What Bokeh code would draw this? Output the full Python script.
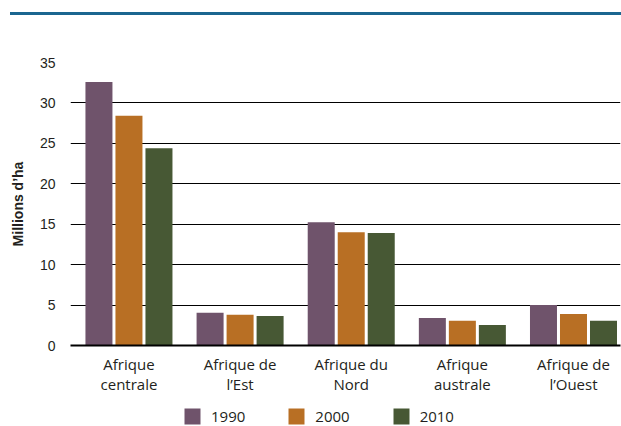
from bokeh.plotting import figure
from bokeh.models import ColumnDataSource, Range1d, FixedTicker, SingleIntervalTicker, Div, Legend, LegendItem
from bokeh.transform import dodge
from bokeh.layouts import column
from bokeh.embed import file_html
from bokeh.resources import INLINE

# ---- data ----
regions = ["Afrique\ncentrale", "Afrique de\nl’Est", "Afrique du\nNord", "Afrique\naustrale", "Afrique de\nl’Ouest"]
years = ["1990", "2000", "2010"]
v1990 = [32.6, 4.05, 15.25, 3.4, 5.0]
v2000 = [28.4, 3.8, 14.0, 3.05, 3.9]
v2010 = [24.4, 3.65, 13.9, 2.55, 3.05]
colors = ["#6f536b", "#b86f24", "#475834"]

xpos = list(range(len(regions)))
src = ColumnDataSource(data=dict(x=xpos, y1990=v1990, y2000=v2000, y2010=v2010))

p = figure(width=621, height=381,
           x_range=Range1d(-0.526, 4.423), y_range=Range1d(0, 35),
           output_backend="svg", toolbar_location=None,
           min_border_left=70, min_border_right=1,
           min_border_top=47, min_border_bottom=50)
p.outline_line_color = None
p.background_fill_color = "white"
p.border_fill_color = "white"

offsets = [-0.27, 0.0, 0.27]
for yr, off, col in zip(years, offsets, colors):
    p.vbar(x=dodge("x", off, range=p.x_range), top="y" + yr, width=0.243,
           source=src, fill_color=col, line_color=None)

# y axis
p.yaxis.ticker = SingleIntervalTicker(interval=5)
p.ygrid.ticker = SingleIntervalTicker(interval=5)
p.ygrid.grid_line_color = "black"
p.ygrid.grid_line_width = 1
p.xgrid.visible = False
p.yaxis.axis_line_color = None
p.yaxis.major_tick_line_color = None
p.yaxis.minor_tick_line_color = None
p.yaxis.major_label_standoff = 9
p.yaxis.major_label_text_font = "Liberation Sans"
p.yaxis.major_label_text_font_size = "14px"
p.yaxis.major_label_text_color = "#231f20"
p.yaxis.axis_label = "Millions d’ha"
p.yaxis.axis_label_text_font = "Liberation Sans"
p.yaxis.axis_label_text_font_style = "bold"
p.yaxis.axis_label_text_font_size = "14px"
p.yaxis.axis_label_text_color = "#231f20"
p.yaxis.axis_label_standoff = 11

# x axis
p.xaxis.ticker = FixedTicker(ticks=xpos)
p.xaxis.major_label_overrides = {i: r for i, r in zip(xpos, regions)}
p.xaxis.axis_line_color = "black"
p.xaxis.axis_line_width = 2
p.xaxis.major_tick_line_color = None
p.xaxis.minor_tick_line_color = None
p.xaxis.major_label_standoff = 2
p.xaxis.major_label_text_font = "Open Sans"
p.xaxis.major_label_text_font_size = "15px"
p.xaxis.major_label_text_color = "#231f20"
p.xaxis.major_label_text_line_height = 1.0

# legend in its own strip below the chart
pl = figure(width=621, height=30, x_range=Range1d(0, 1), y_range=Range1d(0, 1),
            x_axis_type=None, y_axis_type=None,
            output_backend="svg", toolbar_location=None,
            min_border=0)
pl.outline_line_color = None
pl.grid.visible = False
items = []
for yr, col in zip(years, colors):
    r = pl.vbar(x=[0], top=[0], width=0.1, fill_color=col, line_color=None, visible=False)
    items.append(LegendItem(label=yr, renderers=[r]))
lg = Legend(items=items, orientation="horizontal", location=(112, 0),
            glyph_width=20, glyph_height=20, label_standoff=9, spacing=41,
            padding=0, margin=0, border_line_color=None, background_fill_alpha=0,
            label_text_font="Open Sans", label_text_font_size="15px",
            label_text_color="#231f20")
pl.add_layout(lg)

topline = Div(text="", width=611, height=3, margin=(12, 0, 0, 10),
              styles={"background-color": "#1b6690"})

layout = column(topline, p, pl, spacing=0)

with open("out.html", "w") as f:
    f.write(file_html(layout, INLINE))
